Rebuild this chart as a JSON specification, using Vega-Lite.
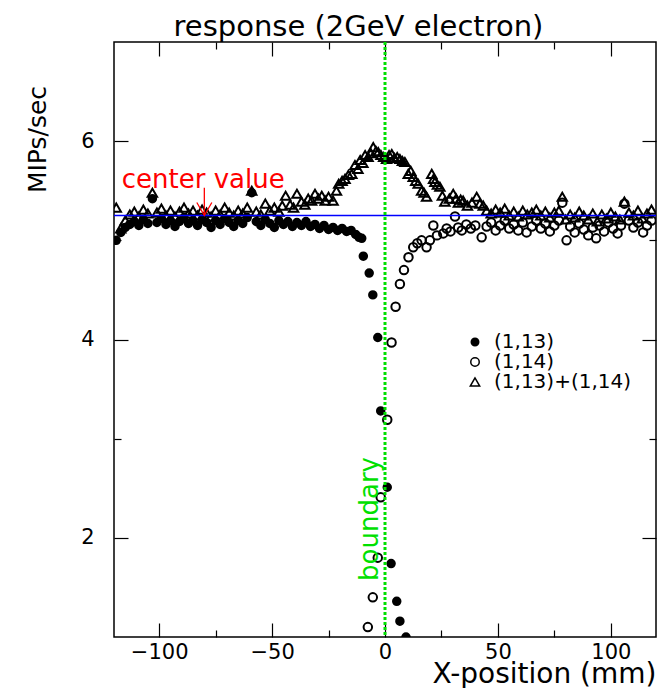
{
"$schema": "https://vega.github.io/schema/vega-lite/v6.json",
"width": 542, "height": 595,
"autosize": {"type": "none"},
"padding": {"left": 114, "top": 42, "right": 10, "bottom": 51},
"background": "white",
"config": {
  "view": {"stroke": "black", "strokeWidth": 1.5},
  "font": "DejaVu Sans",
  "axis": {"minExtent": 0},
  "legend": {"orient": "none", "legendX": 351, "legendY": 290, "labelFontSize": 20, "labelFont": "DejaVu Sans", "labelColor": "black", "rowPadding": 0, "labelOffset": 9, "padding": 0}
},
"datasets": {
"pts": [
{"series":"(1,13)","x":-119,"y":5.0},{"series":"(1,13)","x":-117,"y":5.08},{"series":"(1,13)","x":-115,"y":5.13},{"series":"(1,13)","x":-113,"y":5.16},{"series":"(1,13)","x":-111,"y":5.19},{"series":"(1,13)","x":-109,"y":5.15},{"series":"(1,13)","x":-107,"y":5.21},{"series":"(1,13)","x":-105,"y":5.17},{"series":"(1,13)","x":-103,"y":5.42},{"series":"(1,13)","x":-101,"y":5.18},{"series":"(1,13)","x":-99,"y":5.22},{"series":"(1,13)","x":-97,"y":5.16},{"series":"(1,13)","x":-95,"y":5.2},{"series":"(1,13)","x":-93,"y":5.14},{"series":"(1,13)","x":-91,"y":5.19},{"series":"(1,13)","x":-89,"y":5.23},{"series":"(1,13)","x":-87,"y":5.17},{"series":"(1,13)","x":-85,"y":5.2},{"series":"(1,13)","x":-83,"y":5.15},{"series":"(1,13)","x":-81,"y":5.21},{"series":"(1,13)","x":-79,"y":5.18},{"series":"(1,13)","x":-77,"y":5.13},{"series":"(1,13)","x":-75,"y":5.2},{"series":"(1,13)","x":-73,"y":5.16},{"series":"(1,13)","x":-71,"y":5.22},{"series":"(1,13)","x":-69,"y":5.18},{"series":"(1,13)","x":-67,"y":5.14},{"series":"(1,13)","x":-65,"y":5.2},{"series":"(1,13)","x":-63,"y":5.17},{"series":"(1,13)","x":-61,"y":5.23},{"series":"(1,13)","x":-59,"y":5.48},{"series":"(1,13)","x":-57,"y":5.19},{"series":"(1,13)","x":-55,"y":5.15},{"series":"(1,13)","x":-53,"y":5.21},{"series":"(1,13)","x":-51,"y":5.17},{"series":"(1,13)","x":-49,"y":5.13},{"series":"(1,13)","x":-47,"y":5.2},{"series":"(1,13)","x":-45,"y":5.16},{"series":"(1,13)","x":-43,"y":5.19},{"series":"(1,13)","x":-41,"y":5.14},{"series":"(1,13)","x":-39,"y":5.18},{"series":"(1,13)","x":-37,"y":5.15},{"series":"(1,13)","x":-35,"y":5.19},{"series":"(1,13)","x":-33,"y":5.14},{"series":"(1,13)","x":-31,"y":5.16},{"series":"(1,13)","x":-29,"y":5.12},{"series":"(1,13)","x":-27,"y":5.15},{"series":"(1,13)","x":-25,"y":5.11},{"series":"(1,13)","x":-23,"y":5.13},{"series":"(1,13)","x":-21,"y":5.1},{"series":"(1,13)","x":-19,"y":5.12},{"series":"(1,13)","x":-17,"y":5.09},{"series":"(1,13)","x":-15,"y":5.1},{"series":"(1,13)","x":-13,"y":5.06},{"series":"(1,13)","x":-11.5,"y":5.03},{"series":"(1,13)","x":-10.3,"y":5.02},{"series":"(1,13)","x":-9.6,"y":4.84},{"series":"(1,13)","x":-7,"y":4.67},{"series":"(1,13)","x":-5.4,"y":4.45},{"series":"(1,13)","x":-3.2,"y":4.02},{"series":"(1,13)","x":-1.9,"y":3.28},{"series":"(1,13)","x":1,"y":2.51},{"series":"(1,13)","x":2.7,"y":1.74},{"series":"(1,13)","x":5.2,"y":1.36},{"series":"(1,13)","x":6.6,"y":1.16},{"series":"(1,13)","x":9.3,"y":1.0},
{"series":"(1,14)","x":-7.6,"y":1.1},{"series":"(1,14)","x":-5.4,"y":1.4},{"series":"(1,14)","x":-3.2,"y":1.8},{"series":"(1,14)","x":-1.9,"y":2.41},{"series":"(1,14)","x":1,"y":3.19},{"series":"(1,14)","x":2.9,"y":3.97},{"series":"(1,14)","x":4.7,"y":4.33},{"series":"(1,14)","x":6.6,"y":4.56},{"series":"(1,14)","x":8.4,"y":4.7},{"series":"(1,14)","x":10.4,"y":4.83},{"series":"(1,14)","x":12.5,"y":4.93},{"series":"(1,14)","x":14.3,"y":4.97},{"series":"(1,14)","x":16.2,"y":5.0},{"series":"(1,14)","x":18.4,"y":4.93},{"series":"(1,14)","x":19.9,"y":5.0},{"series":"(1,14)","x":21.4,"y":5.15},{"series":"(1,14)","x":23,"y":5.05},{"series":"(1,14)","x":25.8,"y":5.07},{"series":"(1,14)","x":27.3,"y":5.12},{"series":"(1,14)","x":29,"y":5.09},{"series":"(1,14)","x":31,"y":5.24},{"series":"(1,14)","x":32.4,"y":5.13},{"series":"(1,14)","x":34,"y":5.1},{"series":"(1,14)","x":36,"y":5.16},{"series":"(1,14)","x":38,"y":5.12},{"series":"(1,14)","x":40,"y":5.15},{"series":"(1,14)","x":42.8,"y":5.03},{"series":"(1,14)","x":45,"y":5.14},{"series":"(1,14)","x":47,"y":5.18},{"series":"(1,14)","x":49,"y":5.1},{"series":"(1,14)","x":51,"y":5.15},{"series":"(1,14)","x":53,"y":5.2},{"series":"(1,14)","x":55,"y":5.12},{"series":"(1,14)","x":57,"y":5.16},{"series":"(1,14)","x":59,"y":5.1},{"series":"(1,14)","x":61,"y":5.18},{"series":"(1,14)","x":62.7,"y":5.08},{"series":"(1,14)","x":65,"y":5.14},{"series":"(1,14)","x":67,"y":5.2},{"series":"(1,14)","x":69,"y":5.12},{"series":"(1,14)","x":71,"y":5.17},{"series":"(1,14)","x":73,"y":5.09},{"series":"(1,14)","x":75,"y":5.15},{"series":"(1,14)","x":77,"y":5.2},{"series":"(1,14)","x":78.5,"y":5.38},{"series":"(1,14)","x":80.4,"y":5.0},{"series":"(1,14)","x":82,"y":5.14},{"series":"(1,14)","x":84,"y":5.08},{"series":"(1,14)","x":86,"y":5.17},{"series":"(1,14)","x":88,"y":5.11},{"series":"(1,14)","x":90,"y":5.05},{"series":"(1,14)","x":92,"y":5.13},{"series":"(1,14)","x":93.5,"y":5.02},{"series":"(1,14)","x":95,"y":5.15},{"series":"(1,14)","x":97,"y":5.09},{"series":"(1,14)","x":99,"y":5.18},{"series":"(1,14)","x":101,"y":5.12},{"series":"(1,14)","x":103,"y":5.07},{"series":"(1,14)","x":104.5,"y":5.15},{"series":"(1,14)","x":106,"y":5.37},{"series":"(1,14)","x":108,"y":5.2},{"series":"(1,14)","x":110,"y":5.13},{"series":"(1,14)","x":112,"y":5.18},{"series":"(1,14)","x":114.3,"y":5.08},{"series":"(1,14)","x":116,"y":5.15},{"series":"(1,14)","x":118,"y":5.2},
{"series":"(1,13)+(1,14)","x":-119,"y":5.33},{"series":"(1,13)+(1,14)","x":-117,"y":5.12},{"series":"(1,13)+(1,14)","x":-115,"y":5.2},{"series":"(1,13)+(1,14)","x":-113,"y":5.26},{"series":"(1,13)+(1,14)","x":-111,"y":5.29},{"series":"(1,13)+(1,14)","x":-109,"y":5.24},{"series":"(1,13)+(1,14)","x":-107,"y":5.31},{"series":"(1,13)+(1,14)","x":-105,"y":5.27},{"series":"(1,13)+(1,14)","x":-103,"y":5.48},{"series":"(1,13)+(1,14)","x":-101,"y":5.28},{"series":"(1,13)+(1,14)","x":-99,"y":5.32},{"series":"(1,13)+(1,14)","x":-97,"y":5.25},{"series":"(1,13)+(1,14)","x":-95,"y":5.3},{"series":"(1,13)+(1,14)","x":-93,"y":5.24},{"series":"(1,13)+(1,14)","x":-91,"y":5.29},{"series":"(1,13)+(1,14)","x":-89,"y":5.33},{"series":"(1,13)+(1,14)","x":-87,"y":5.27},{"series":"(1,13)+(1,14)","x":-85,"y":5.3},{"series":"(1,13)+(1,14)","x":-83,"y":5.25},{"series":"(1,13)+(1,14)","x":-81,"y":5.31},{"series":"(1,13)+(1,14)","x":-79,"y":5.28},{"series":"(1,13)+(1,14)","x":-77,"y":5.24},{"series":"(1,13)+(1,14)","x":-75,"y":5.3},{"series":"(1,13)+(1,14)","x":-73,"y":5.26},{"series":"(1,13)+(1,14)","x":-71,"y":5.33},{"series":"(1,13)+(1,14)","x":-69,"y":5.28},{"series":"(1,13)+(1,14)","x":-67,"y":5.25},{"series":"(1,13)+(1,14)","x":-65,"y":5.3},{"series":"(1,13)+(1,14)","x":-63,"y":5.27},{"series":"(1,13)+(1,14)","x":-61,"y":5.33},{"series":"(1,13)+(1,14)","x":-59,"y":5.5},{"series":"(1,13)+(1,14)","x":-57,"y":5.29},{"series":"(1,13)+(1,14)","x":-55,"y":5.26},{"series":"(1,13)+(1,14)","x":-53,"y":5.37},{"series":"(1,13)+(1,14)","x":-51,"y":5.3},{"series":"(1,13)+(1,14)","x":-49,"y":5.33},{"series":"(1,13)+(1,14)","x":-47,"y":5.29},{"series":"(1,13)+(1,14)","x":-45.5,"y":5.35},{"series":"(1,13)+(1,14)","x":-44,"y":5.45},{"series":"(1,13)+(1,14)","x":-42,"y":5.36},{"series":"(1,13)+(1,14)","x":-40.5,"y":5.33},{"series":"(1,13)+(1,14)","x":-39,"y":5.47},{"series":"(1,13)+(1,14)","x":-37,"y":5.39},{"series":"(1,13)+(1,14)","x":-35.5,"y":5.36},{"series":"(1,13)+(1,14)","x":-34,"y":5.42},{"series":"(1,13)+(1,14)","x":-32.5,"y":5.4},{"series":"(1,13)+(1,14)","x":-31,"y":5.47},{"series":"(1,13)+(1,14)","x":-29.5,"y":5.42},{"series":"(1,13)+(1,14)","x":-28,"y":5.45},{"series":"(1,13)+(1,14)","x":-26.5,"y":5.4},{"series":"(1,13)+(1,14)","x":-25,"y":5.44},{"series":"(1,13)+(1,14)","x":-23,"y":5.4},{"series":"(1,13)+(1,14)","x":-21.5,"y":5.5},{"series":"(1,13)+(1,14)","x":-20.5,"y":5.57},{"series":"(1,13)+(1,14)","x":-19,"y":5.6},{"series":"(1,13)+(1,14)","x":-17.7,"y":5.62},{"series":"(1,13)+(1,14)","x":-16.2,"y":5.66},{"series":"(1,13)+(1,14)","x":-14.7,"y":5.67},{"series":"(1,13)+(1,14)","x":-13.3,"y":5.76},{"series":"(1,13)+(1,14)","x":-12,"y":5.72},{"series":"(1,13)+(1,14)","x":-11,"y":5.81},{"series":"(1,13)+(1,14)","x":-9.8,"y":5.78},{"series":"(1,13)+(1,14)","x":-8.8,"y":5.86},{"series":"(1,13)+(1,14)","x":-7.5,"y":5.84},{"series":"(1,13)+(1,14)","x":-6.3,"y":5.88},{"series":"(1,13)+(1,14)","x":-5.2,"y":5.94},{"series":"(1,13)+(1,14)","x":-4,"y":5.9},{"series":"(1,13)+(1,14)","x":-3,"y":5.89},{"series":"(1,13)+(1,14)","x":-1.8,"y":5.86},{"series":"(1,13)+(1,14)","x":-0.6,"y":5.84},{"series":"(1,13)+(1,14)","x":0.7,"y":5.82},{"series":"(1,13)+(1,14)","x":1.8,"y":5.86},{"series":"(1,13)+(1,14)","x":3,"y":5.87},{"series":"(1,13)+(1,14)","x":4.2,"y":5.83},{"series":"(1,13)+(1,14)","x":5.4,"y":5.84},{"series":"(1,13)+(1,14)","x":6.6,"y":5.82},{"series":"(1,13)+(1,14)","x":7.7,"y":5.8},{"series":"(1,13)+(1,14)","x":8.8,"y":5.79},{"series":"(1,13)+(1,14)","x":10.3,"y":5.67},{"series":"(1,13)+(1,14)","x":11.4,"y":5.7},{"series":"(1,13)+(1,14)","x":12.5,"y":5.64},{"series":"(1,13)+(1,14)","x":13.6,"y":5.6},{"series":"(1,13)+(1,14)","x":14.7,"y":5.57},{"series":"(1,13)+(1,14)","x":16.2,"y":5.5},{"series":"(1,13)+(1,14)","x":17.3,"y":5.48},{"series":"(1,13)+(1,14)","x":18.4,"y":5.44},{"series":"(1,13)+(1,14)","x":20.7,"y":5.67},{"series":"(1,13)+(1,14)","x":21.5,"y":5.62},{"series":"(1,13)+(1,14)","x":22.1,"y":5.59},{"series":"(1,13)+(1,14)","x":23.2,"y":5.56},{"series":"(1,13)+(1,14)","x":24.3,"y":5.54},{"series":"(1,13)+(1,14)","x":25.4,"y":5.45},{"series":"(1,13)+(1,14)","x":26.5,"y":5.39},{"series":"(1,13)+(1,14)","x":28.5,"y":5.42},{"series":"(1,13)+(1,14)","x":30.2,"y":5.47},{"series":"(1,13)+(1,14)","x":31.5,"y":5.42},{"series":"(1,13)+(1,14)","x":32.5,"y":5.38},{"series":"(1,13)+(1,14)","x":33.5,"y":5.41},{"series":"(1,13)+(1,14)","x":34.6,"y":5.4},{"series":"(1,13)+(1,14)","x":36.5,"y":5.35},{"series":"(1,13)+(1,14)","x":38.5,"y":5.38},{"series":"(1,13)+(1,14)","x":40.6,"y":5.44},{"series":"(1,13)+(1,14)","x":42,"y":5.37},{"series":"(1,13)+(1,14)","x":43.5,"y":5.35},{"series":"(1,13)+(1,14)","x":45,"y":5.3},{"series":"(1,13)+(1,14)","x":47,"y":5.27},{"series":"(1,13)+(1,14)","x":49,"y":5.31},{"series":"(1,13)+(1,14)","x":51,"y":5.28},{"series":"(1,13)+(1,14)","x":53,"y":5.32},{"series":"(1,13)+(1,14)","x":55,"y":5.25},{"series":"(1,13)+(1,14)","x":57,"y":5.29},{"series":"(1,13)+(1,14)","x":59,"y":5.24},{"series":"(1,13)+(1,14)","x":61,"y":5.3},{"series":"(1,13)+(1,14)","x":63,"y":5.26},{"series":"(1,13)+(1,14)","x":65,"y":5.28},{"series":"(1,13)+(1,14)","x":67,"y":5.31},{"series":"(1,13)+(1,14)","x":69,"y":5.25},{"series":"(1,13)+(1,14)","x":71,"y":5.29},{"series":"(1,13)+(1,14)","x":73,"y":5.23},{"series":"(1,13)+(1,14)","x":75,"y":5.28},{"series":"(1,13)+(1,14)","x":77,"y":5.3},{"series":"(1,13)+(1,14)","x":78.5,"y":5.44},{"series":"(1,13)+(1,14)","x":80,"y":5.21},{"series":"(1,13)+(1,14)","x":82,"y":5.26},{"series":"(1,13)+(1,14)","x":84,"y":5.23},{"series":"(1,13)+(1,14)","x":86,"y":5.29},{"series":"(1,13)+(1,14)","x":88,"y":5.25},{"series":"(1,13)+(1,14)","x":90,"y":5.21},{"series":"(1,13)+(1,14)","x":92,"y":5.27},{"series":"(1,13)+(1,14)","x":94,"y":5.19},{"series":"(1,13)+(1,14)","x":96,"y":5.26},{"series":"(1,13)+(1,14)","x":98,"y":5.22},{"series":"(1,13)+(1,14)","x":100,"y":5.28},{"series":"(1,13)+(1,14)","x":102,"y":5.24},{"series":"(1,13)+(1,14)","x":104,"y":5.21},{"series":"(1,13)+(1,14)","x":106,"y":5.39},{"series":"(1,13)+(1,14)","x":108,"y":5.28},{"series":"(1,13)+(1,14)","x":110,"y":5.25},{"series":"(1,13)+(1,14)","x":112,"y":5.3},{"series":"(1,13)+(1,14)","x":114,"y":5.22},{"series":"(1,13)+(1,14)","x":116,"y":5.27},{"series":"(1,13)+(1,14)","x":118,"y":5.31}
]
},
"resolve": {"axis": {"x": "independent", "y": "independent"}},
"layer": [
{
  "data": {"name": "pts"},
  "mark": {"type": "point", "filled": true, "stroke": "black", "strokeWidth": 2, "clip": true, "opacity": 1},
  "encoding": {
    "x": {"field": "x", "type": "quantitative", "scale": {"domain": [-120, 120], "nice": false, "zero": false},
      "axis": {"orient": "bottom", "values": [-100, -50, 0, 50, 100], "ticks": false, "domain": false, "grid": false, "labelFontSize": 21, "labelColor": "black", "labelPadding": 4, "labelFlush": false, "minExtent": 0,
        "title": "X-position (mm)", "titleFontSize": 28, "titleFontWeight": "normal", "titleColor": "black", "titleX": 542, "titleY": 37, "titleAlign": "right", "titleBaseline": "middle"}},
    "y": {"field": "y", "type": "quantitative", "scale": {"domain": [1, 7], "nice": false, "zero": false},
      "axis": {"orient": "left", "values": [2, 4, 6], "ticks": false, "domain": false, "grid": false, "labelFontSize": 21, "labelColor": "black", "labelPadding": 20, "labelFlush": false, "minExtent": 0,
        "title": "MIPs/sec", "titleFontSize": 25, "titleFontWeight": "normal", "titleColor": "black", "titleX": -77, "titleY": 97, "titleAngle": 270, "titleAlign": "center", "titleBaseline": "middle"}},
    "shape": {"field": "series", "type": "nominal", "scale": {"domain": ["(1,13)", "(1,14)", "(1,13)+(1,14)"], "range": ["circle", "circle", "triangle-up"]},
      "legend": {"title": null, "symbolStrokeColor": "black", "symbolStrokeWidth": 1.5, "encode": {"symbols": {"update": {"stroke": {"value": "black"}, "strokeWidth": {"value": 1.5}}}}}},
    "fill": {"field": "series", "type": "nominal", "scale": {"domain": ["(1,13)", "(1,14)", "(1,13)+(1,14)"], "range": ["black", "transparent", "transparent"]}, "legend": {"title": null}},
    "size": {"field": "series", "type": "nominal", "scale": {"domain": ["(1,13)", "(1,14)", "(1,13)+(1,14)"], "range": [56, 88, 110]}, "legend": {"title": null}}
  }
},
{
  "data": {"values": [{"y": 5.25}]},
  "mark": {"type": "rule", "color": "#0000ff", "strokeWidth": 1.6},
  "encoding": {"y": {"field": "y", "type": "quantitative", "scale": {"domain": [1, 7], "nice": false, "zero": false},
    "axis": {"orient": "right", "values": [2, 4, 6], "labels": false, "title": null, "domain": false, "grid": false, "minExtent": 0, "ticks": true, "tickSize": -14, "tickColor": "black", "tickWidth": 1.2}}}
},
{
  "data": {"values": [{"x": 0}]},
  "mark": {"type": "rule", "color": "#00e000", "strokeWidth": 3, "strokeDash": [3, 2]},
  "encoding": {"x": {"field": "x", "type": "quantitative", "scale": {"domain": [-120, 120], "nice": false, "zero": false},
    "axis": {"orient": "top", "values": [-100, -50, 0, 50, 100], "labels": false, "domain": false, "grid": false, "minExtent": 0, "ticks": true, "tickSize": -14, "tickColor": "black", "tickWidth": 1.2,
      "title": "response (2GeV electron)", "titleFont": "DejaVu Sans", "titleFontSize": 29, "titleFontWeight": "normal", "titleColor": "black",
      "titleX": 244, "titleY": -7, "titleAlign": "center", "titleBaseline": "alphabetic", "titleAngle": 0}}}
},
{
  "data": {"values": [{"x": -80.5, "y": 5.61, "label": "center value"}]},
  "mark": {"type": "text", "color": "#ff0000", "fontSize": 26, "font": "DejaVu Sans", "align": "center", "baseline": "middle"},
  "encoding": {
    "text": {"field": "label"},
    "x": {"field": "x", "type": "quantitative", "axis": {"orient": "bottom", "values": [-100, -50, 0, 50, 100], "labels": false, "title": null, "domain": false, "grid": false, "minExtent": 0, "ticks": true, "tickSize": -14, "tickColor": "black", "tickWidth": 1.2}},
    "y": {"field": "y", "type": "quantitative", "axis": {"orient": "left", "values": [2, 4, 6], "labels": false, "title": null, "domain": false, "grid": false, "minExtent": 0, "ticks": true, "tickSize": -14, "tickColor": "black", "tickWidth": 1.2}}
  }
},
{
  "data": {"values": [{"x": -80, "y": 5.53, "y2": 5.26}]},
  "mark": {"type": "rule", "color": "#ff0000", "strokeWidth": 1.3},
  "encoding": {
    "x": {"field": "x", "type": "quantitative", "axis": {"orient": "bottom", "values": [-75, -25, 25, 75], "labels": false, "title": null, "domain": false, "grid": false, "minExtent": 0, "ticks": true, "tickSize": -7, "tickColor": "black", "tickWidth": 1.2}},
    "y": {"field": "y", "type": "quantitative", "axis": {"orient": "left", "values": [3, 5], "labels": false, "title": null, "domain": false, "grid": false, "minExtent": 0, "ticks": true, "tickSize": -7, "tickColor": "black", "tickWidth": 1.2}},
    "y2": {"field": "y2"}
  }
},
{
  "data": {"values": [{"x": -80, "y": 5.316}]},
  "mark": {"type": "point", "shape": "M-1,-0.87L0,0.87L1,-0.87", "size": 225, "filled": false, "stroke": "#ff0000", "strokeWidth": 1.3, "opacity": 1},
  "encoding": {
    "x": {"field": "x", "type": "quantitative", "axis": {"orient": "top", "values": [-75, -25, 25, 75], "labels": false, "title": null, "domain": false, "grid": false, "minExtent": 0, "ticks": true, "tickSize": -7, "tickColor": "black", "tickWidth": 1.2}},
    "y": {"field": "y", "type": "quantitative", "axis": {"orient": "right", "values": [3, 5], "labels": false, "title": null, "domain": false, "grid": false, "minExtent": 0, "ticks": true, "tickSize": -7, "tickColor": "black", "tickWidth": 1.2}}
  }
},
{
  "data": {"values": [{"x": -6.8, "y": 2.19, "label": "boundary"}]},
  "mark": {"type": "text", "color": "#00e000", "fontSize": 26, "font": "DejaVu Sans", "angle": 270, "align": "center", "baseline": "middle"},
  "encoding": {
    "text": {"field": "label"},
    "x": {"field": "x", "type": "quantitative", "axis": null},
    "y": {"field": "y", "type": "quantitative", "axis": null}
  }
}
]
}
